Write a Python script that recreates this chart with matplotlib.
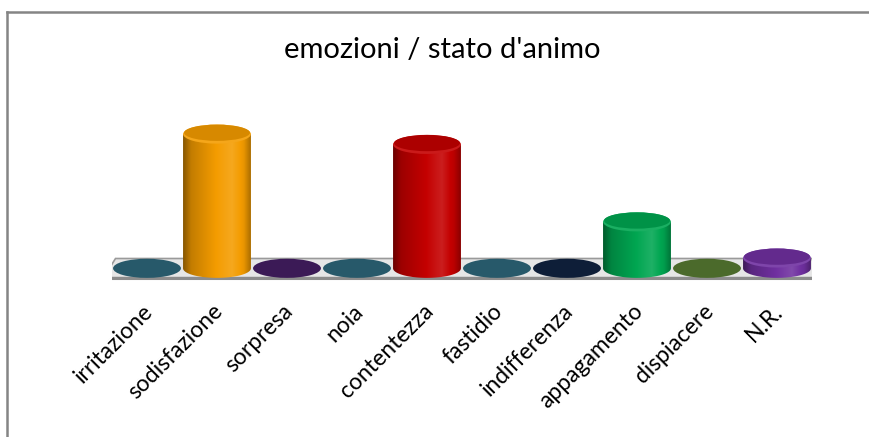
import numpy as np
import matplotlib
matplotlib.use("Agg")
import matplotlib.pyplot as plt
from matplotlib.patches import Ellipse, Polygon
from matplotlib.lines import Line2D
from matplotlib.colors import to_rgb

#--data
categories = ["irritazione", "sodisfazione", "sorpresa", "noia", "contentezza",
              "fastidio", "indifferenza", "appagamento", "dispiacere", "N.R."]
values = [0, 13, 0, 0, 12, 0, 0, 4.5, 0, 1]
colors = ["#27596a", "#f49c00", "#3b1a56", "#27596a", "#c40000",
          "#27596a", "#0e1e38", "#00a651", "#4b6a2b", "#7030a0"]
title = "emozioni / stato d'animo"

plt.rcParams['font.family'] = ['Lato', 'DejaVu Sans']

fig = plt.figure(figsize=(8.69, 4.37), dpi=100)
W, H = 869, 437

#--axes placed in pixel terms (left, bottom, width, height)
ax_px = (112, 290, 700, 190)
ax = fig.add_axes([ax_px[0] / W, 1 - ax_px[1] / H, ax_px[2] / W, ax_px[3] / H])
ax.set_xlim(-0.5, len(categories) - 0.5)
ax.set_ylim(-2.1, 16.3)
ax.axis("off")

bw = 0.97      # cylinder width, category units
eh = 1.85      # full height of ellipse, value units


def shade(c, f):
    c = np.array(to_rgb(c))
    if f < 1:
        return c * f
    return c + (1 - c) * (f - 1)


#--floor slab
floor = Polygon([(-0.45, 0.95), (9.5, 0.95), (9.58, -0.9), (-0.62, -0.9)],
                closed=True, facecolor="#e6e6e6", edgecolor="#9a9a9a", lw=1.2, zorder=1)
ax.add_patch(floor)
ax.plot([-0.62, 9.58], [-0.9, -0.9], color="#8c8c8c", lw=2.2, zorder=1,
        solid_capstyle="butt")

#--horizontal lightness profile for cylinder bodies
xs = np.linspace(0, 1, 200)
prof = np.interp(xs, [0, 0.12, 0.45, 0.72, 0.9, 1.0], [0.55, 0.8, 0.98, 1.12, 0.95, 0.7])

for i, (v, c) in enumerate(zip(values, colors)):
    if v <= 0:
        ax.add_patch(Ellipse((i, 0), bw, eh, facecolor=c, edgecolor="none", zorder=2))
        continue
    t = np.linspace(np.pi, 2 * np.pi, 60)
    pts = np.column_stack([i + bw / 2 * np.cos(t), eh / 2 * np.sin(t)])
    pts = np.vstack([pts, [i + bw / 2, v], [i - bw / 2, v]])
    body = Polygon(pts, closed=True, facecolor="none", edgecolor="none", zorder=3)
    ax.add_patch(body)
    img = np.array([[shade(c, f) for f in prof]])
    im = ax.imshow(img, extent=(i - bw / 2, i + bw / 2, -eh / 2, v), aspect="auto",
                   zorder=3, interpolation="bilinear")
    im.set_clip_path(body)
    # top cap: lighter front rim, darker inside
    ax.add_patch(Ellipse((i, v), bw, eh, facecolor=shade(c, 1.1),
                         edgecolor="none", zorder=4))
    ax.add_patch(Ellipse((i, v + eh * 0.07), bw * 0.97, eh * 0.85,
                         facecolor=shade(c, 0.88), edgecolor="none", zorder=4))

ax.set_xticks(range(len(categories)))
for i, lab in enumerate(categories):
    ax.annotate(lab, xy=(i, 0), xycoords=("data", "axes fraction"),
                xytext=(2, -13), textcoords="offset points",
                rotation=45, ha="right", va="center", rotation_mode="anchor",
                fontsize=16.5, color="black", annotation_clip=False)

fig.text(442 / W, 1 - 50 / H, title, ha="center", va="center", fontsize=21)

#--chart frame (only left and top edges visible)
fig.add_artist(Line2D([7 / W, 7 / W], [0, 1 - 12 / H], color="#858585", lw=1.8))
fig.add_artist(Line2D([7 / W, 1], [1 - 12 / H, 1 - 12 / H], color="#858585", lw=1.8))

fig.savefig("out.png", dpi=100)
